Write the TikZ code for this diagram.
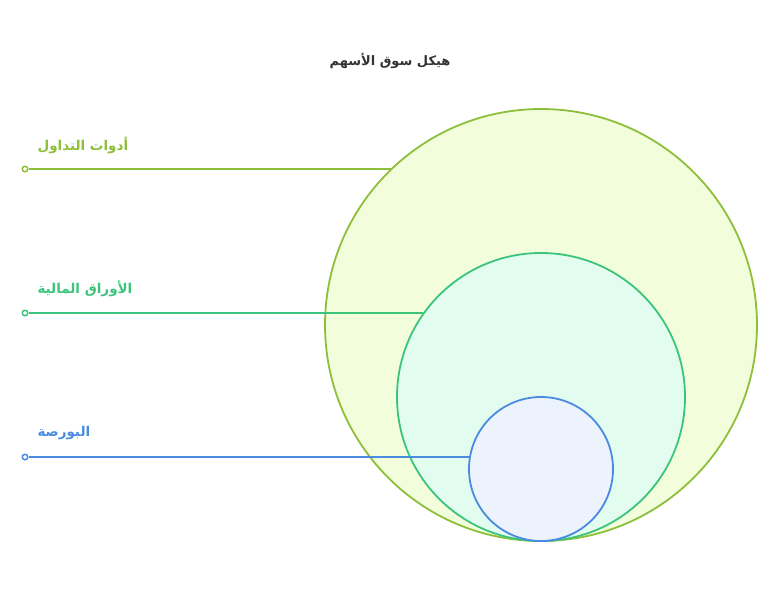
\documentclass[tikz,border=0pt]{standalone}
\usepackage{fontspec}
\newfontfamily\arabicfont[Script=Arabic]{DejaVu Sans}
\TeXXeTstate=1
\definecolor{tradeline}{HTML}{8DBF3A}
\definecolor{tradefill}{HTML}{F2FDDC}
\definecolor{secline}{HTML}{3CC47C}
\definecolor{secfill}{HTML}{E2FDF0}
\definecolor{bourseline}{HTML}{4A8BE0}
\definecolor{boursefill}{HTML}{EDF3FD}
\definecolor{titletext}{HTML}{333333}
\tikzset{
  ring/.style={circle,draw=#1line,fill=#1fill,line width=1.8pt,inner sep=0pt,outer sep=0pt},
  tag/.style={anchor=west,text=#1line,font=\arabicfont\bfseries\fontsize{13.5}{15}\selectfont},
  lead/.style={draw=#1line,line width=2pt},
  dot/.style={circle,draw=#1line,fill=white,line width=1.5pt,minimum size=5.5pt,inner sep=0pt}
}
\begin{document}
\begin{tikzpicture}[x=1pt,y=-1pt]
  \useasboundingbox (0,0) rectangle (782,590);
  \node (title) at (390,61) {\arabicfont\bfseries\fontsize{13}{16}\selectfont\color{titletext}\beginR هيكل سوق الأسهم\endR};
  \node[ring=trade,minimum size=432pt] (outer) at (541,325) {};
  \node[ring=sec,minimum size=288pt] (middle) at (541,397) {};
  \node[ring=bourse,minimum size=144pt] (inner) at (541,469) {};
  \node[dot=trade] (d1) at (25,169) {};
  \node[dot=sec] (d2) at (25,313) {};
  \node[dot=bourse] (d3) at (25,457) {};
  \draw[lead=trade] (d1) -- (d1 -| outer.134.6);
  \draw[lead=sec] (d2) -- (d2 -| middle.145);
  \draw[lead=bourse] (d3) -- (d3 -| inner.171);
  \node[tag=trade] (t1) at (34,145) {\beginR أدوات التداول\endR};
  \node[tag=sec] (t2) at (34,289) {\beginR الأوراق المالية\endR};
  \node[tag=bourse] (t3) at (34,433) {\beginR البورصة\endR};
\end{tikzpicture}
\end{document}
